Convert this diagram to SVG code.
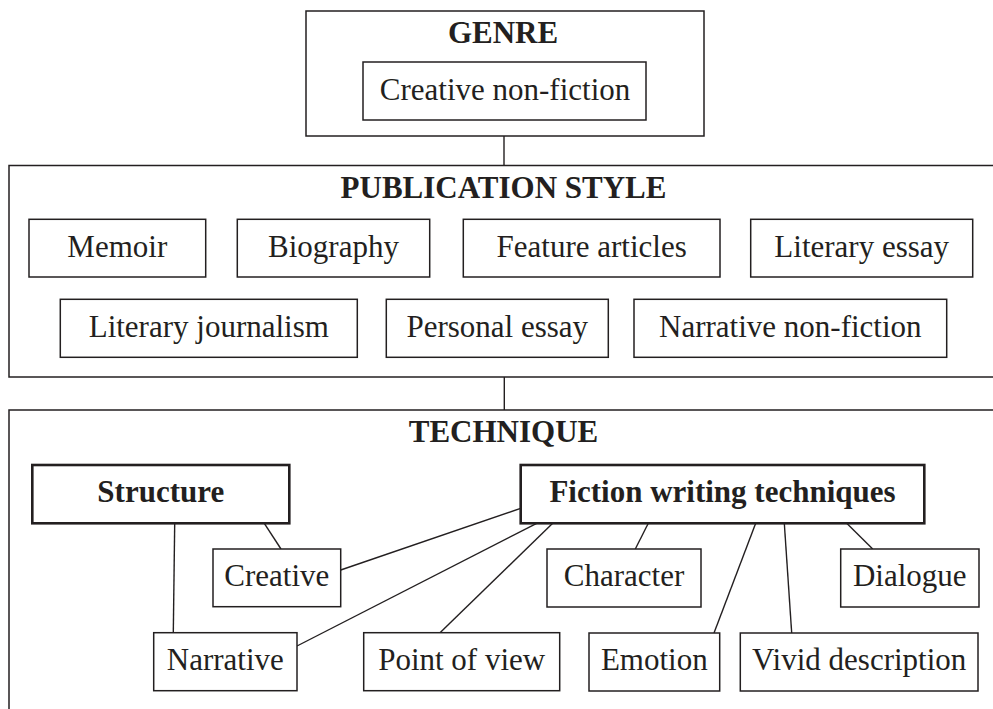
<svg xmlns="http://www.w3.org/2000/svg" width="993" height="709" viewBox="0 0 993 709">
<style>
.bg{fill:#ffffff}
.box{fill:#ffffff;stroke:#231f20;stroke-width:1.5}
.bbox{fill:#ffffff;stroke:#231f20;stroke-width:2.6}
.frame{fill:none;stroke:#231f20;stroke-width:1.5}
.t{font-family:"Liberation Serif","Times New Roman",serif;font-size:31px;fill:#231f20;text-anchor:middle}
.b{font-weight:bold}
.con line{stroke:#231f20;stroke-width:1.4}
</style>
<rect class="bg" x="0" y="0" width="993" height="709"/>

<g id="connectors" class="con">
<line x1="504" y1="136" x2="504" y2="165.5"/>
<line x1="504.3" y1="377" x2="504.3" y2="410"/>
<line x1="264.3" y1="523.3" x2="281" y2="549"/>
<line x1="174.7" y1="523.3" x2="173.3" y2="632.7"/>
<line x1="520.7" y1="508.3" x2="340.7" y2="570"/>
<line x1="536.7" y1="523.3" x2="297" y2="646"/>
<line x1="552.7" y1="523.3" x2="440" y2="632.7"/>
<line x1="648.3" y1="523.3" x2="635.3" y2="549"/>
<line x1="755.7" y1="523.3" x2="714" y2="633"/>
<line x1="784.3" y1="523.3" x2="791.7" y2="633"/>
<line x1="846.7" y1="523.3" x2="872.7" y2="549"/>
</g>

<g id="genre">
<rect class="frame" x="306" y="11" width="398" height="125"/>
<text class="t b" x="503" y="43">GENRE</text>
</g>
<g id="creative-non-fiction">
<rect class="box" x="363" y="62" width="283" height="58"/>
<text class="t" x="505" y="100">Creative non-fiction</text>
</g>

<g id="publication-style">
<rect class="frame" x="9" y="165.5" width="1000" height="211.5"/>
<text class="t b" x="503.5" y="198">PUBLICATION STYLE</text>
</g>
<g id="memoir">
<rect class="box" x="29" y="219.3" width="176.7" height="57.7"/>
<text class="t" x="117.3" y="257.3">Memoir</text>
</g>
<g id="biography">
<rect class="box" x="237.3" y="219.3" width="192.4" height="57.7"/>
<text class="t" x="333.5" y="257.3">Biography</text>
</g>
<g id="feature-articles">
<rect class="box" x="463.3" y="219.3" width="256.7" height="57.7"/>
<text class="t" x="591.7" y="257.3">Feature articles</text>
</g>
<g id="literary-essay">
<rect class="box" x="750.7" y="219.3" width="222" height="57.7"/>
<text class="t" x="861.7" y="257.3">Literary essay</text>
</g>
<g id="literary-journalism">
<rect class="box" x="60.3" y="299.3" width="297" height="58"/>
<text class="t" x="208.8" y="337">Literary journalism</text>
</g>
<g id="personal-essay">
<rect class="box" x="386.3" y="299.3" width="222" height="58"/>
<text class="t" x="497.3" y="337">Personal essay</text>
</g>
<g id="narrative-non-fiction">
<rect class="box" x="634" y="299.3" width="312.7" height="58"/>
<text class="t" x="790.3" y="337">Narrative non-fiction</text>
</g>

<g id="technique">
<rect class="frame" x="9" y="410" width="1000" height="320"/>
<text class="t b" x="503.5" y="441.7">TECHNIQUE</text>
</g>
<g id="structure">
<rect class="bbox" x="32.3" y="465" width="257" height="58.3"/>
<text class="t b" x="160.8" y="502.3">Structure</text>
</g>
<g id="fiction-writing-techniques">
<rect class="bbox" x="520.7" y="465" width="403.6" height="58.3"/>
<text class="t b" x="722.5" y="502.3">Fiction writing techniques</text>
</g>
<g id="creative">
<rect class="box" x="213" y="549" width="127.7" height="57.7"/>
<text class="t" x="276.8" y="586">Creative</text>
</g>
<g id="character">
<rect class="box" x="547" y="549" width="154" height="58"/>
<text class="t" x="624" y="586">Character</text>
</g>
<g id="dialogue">
<rect class="box" x="840.7" y="549" width="138.3" height="58"/>
<text class="t" x="909.8" y="586">Dialogue</text>
</g>
<g id="narrative">
<rect class="box" x="153.7" y="632.7" width="143.3" height="58"/>
<text class="t" x="225.3" y="669.5">Narrative</text>
</g>
<g id="point-of-view">
<rect class="box" x="363.7" y="632.7" width="196" height="58"/>
<text class="t" x="461.7" y="669.5">Point of view</text>
</g>
<g id="emotion">
<rect class="box" x="589" y="633" width="130.7" height="58"/>
<text class="t" x="654.3" y="669.5">Emotion</text>
</g>
<g id="vivid-description">
<rect class="box" x="740.3" y="633" width="237.7" height="58"/>
<text class="t" x="859.2" y="669.5">Vivid description</text>
</g>
</svg>
